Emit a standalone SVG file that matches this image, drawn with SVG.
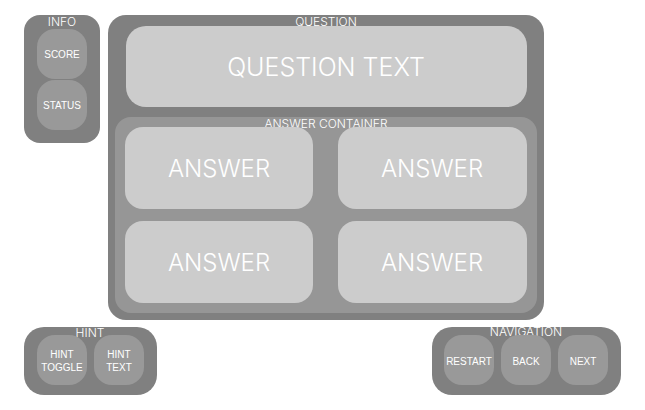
<svg xmlns="http://www.w3.org/2000/svg" width="645" height="410" viewBox="0 0 645 410">
<style>
.outer{fill:#808080}
.btn{fill:#999999}
.cont{fill:#969696}
.light{fill:#cccccc}
text{fill:#ffffff;font-family:Inter,"Liberation Sans",sans-serif;text-anchor:middle}
.lbl{font-size:12px;font-weight:300}
.small{font-size:10px;font-family:"Liberation Sans",Arial,sans-serif}
.big{font-size:25px;font-weight:300}
.ans{font-size:24px;font-weight:300}
</style>
<rect width="645" height="410" fill="#ffffff"/>
<g id="info">
<rect class="outer" x="24" y="15" width="76" height="128" rx="16"/>
<text class="lbl" x="62" y="26">INFO</text>
<g id="score"><rect class="btn" x="37" y="29" width="50" height="50" rx="18"/><text class="small" x="62" y="58">SCORE</text></g>
<g id="status"><rect class="btn" x="37" y="80" width="50" height="50" rx="18"/><text class="small" x="62" y="109">STATUS</text></g>
</g>
<g id="question">
<rect class="outer" x="108" y="15" width="436" height="305" rx="18"/>
<text class="lbl" x="326" y="26">QUESTION</text>
<g id="question-text"><rect class="light" x="126" y="26" width="401" height="81" rx="20"/><text class="big" x="326" y="76">QUESTION TEXT</text></g>
<g id="answer-container">
<rect class="cont" x="115" y="117" width="422" height="196" rx="16"/>
<text class="lbl" x="326" y="128">ANSWER CONTAINER</text>
<g id="answer1"><rect class="light" x="125" y="127" width="188" height="82" rx="18"/><text class="ans" x="219" y="177">ANSWER</text></g>
<g id="answer2"><rect class="light" x="338" y="127" width="189" height="82" rx="18"/><text class="ans" x="432" y="177">ANSWER</text></g>
<g id="answer3"><rect class="light" x="125" y="221" width="188" height="82" rx="18"/><text class="ans" x="219" y="271">ANSWER</text></g>
<g id="answer4"><rect class="light" x="338" y="221" width="189" height="82" rx="18"/><text class="ans" x="432" y="271">ANSWER</text></g>
</g>
</g>
<g id="hint">
<rect class="outer" x="24" y="327" width="133" height="68" rx="20"/>
<text class="lbl" x="90" y="337">HINT</text>
<g id="hint-toggle"><rect class="btn" x="37" y="335" width="50" height="50" rx="18"/><text class="small" x="62" y="358">HINT</text><text class="small" x="62" y="371">TOGGLE</text></g>
<g id="hint-text"><rect class="btn" x="94" y="335" width="50" height="50" rx="18"/><text class="small" x="119" y="358">HINT</text><text class="small" x="119" y="371">TEXT</text></g>
</g>
<g id="navigation">
<rect class="outer" x="432" y="327" width="189" height="68" rx="20"/>
<text class="lbl" x="526" y="336">NAVIGATION</text>
<g id="restart"><rect class="btn" x="444" y="335" width="50" height="50" rx="18"/><text class="small" x="469" y="365">RESTART</text></g>
<g id="back"><rect class="btn" x="501" y="335" width="50" height="50" rx="18"/><text class="small" x="526" y="365">BACK</text></g>
<g id="next"><rect class="btn" x="558" y="335" width="50" height="50" rx="18"/><text class="small" x="583" y="365">NEXT</text></g>
</g>
<g id="connectors"/>
</svg>
